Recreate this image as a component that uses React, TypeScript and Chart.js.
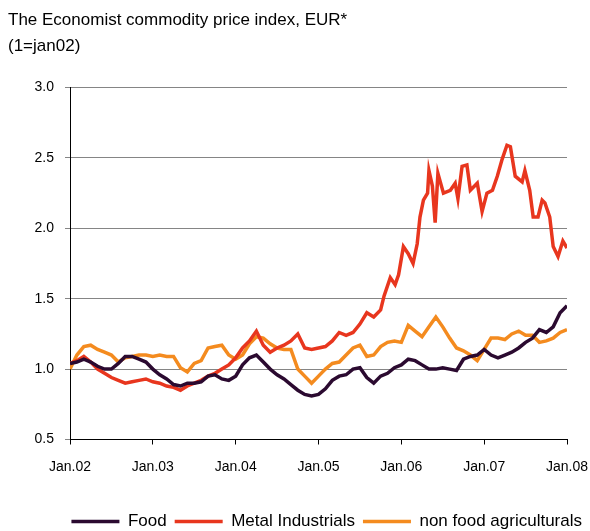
import { useEffect, useRef } from "react";
import { Chart, registerables } from "chart.js";

Chart.register(...registerables);

const FONT = '"Liberation Sans", Arial, sans-serif';

const TITLE_LINES = ["The Economist commodity price index, EUR*", "(1=jan02)"];
const X_TICK_LABELS = ["Jan.02", "Jan.03", "Jan.04", "Jan.05", "Jan.06", "Jan.07", "Jan.08"];
const SERIES_NAMES = ["Food", "Metal Industrials", "non food agriculturals"];
const SERIES_COLORS = ["#2B0A30", "#E8361E", "#F48B1F"];

// months since Jan 2002 (0 = Jan.02, 72 = Jan.08)
const MONTHS = Array.from({ length: 73 }, (_, i) => i);

const FOOD = [
  1.04, 1.05, 1.07, 1.05, 1.02, 1.0, 1.0, 1.04, 1.09, 1.09, 1.07, 1.05,
  1.0, 0.96, 0.93, 0.89, 0.88, 0.9, 0.9, 0.91, 0.95, 0.96, 0.93, 0.92,
  0.95, 1.03, 1.08, 1.1, 1.05, 1.0, 0.96, 0.93, 0.89, 0.85, 0.82, 0.81,
  0.82, 0.86, 0.92, 0.95, 0.96, 1.0, 1.01, 0.94, 0.9, 0.95, 0.97, 1.01,
  1.03, 1.07, 1.06, 1.03, 1.0, 1.0, 1.01, 1.0, 0.99, 1.07, 1.09, 1.1,
  1.14, 1.1, 1.08, 1.1, 1.12, 1.15, 1.19, 1.22, 1.28, 1.26, 1.3, 1.4,
  1.45,
];

const NON_FOOD = [
  1.0, 1.1, 1.16, 1.17, 1.14, 1.12, 1.1, 1.05, 1.08, 1.09, 1.1, 1.1,
  1.09, 1.1, 1.09, 1.09, 1.01, 0.98, 1.04, 1.06, 1.15, 1.16, 1.17, 1.1,
  1.07, 1.1, 1.18, 1.23, 1.22, 1.18, 1.15, 1.14, 1.14, 1.0, 0.95, 0.9,
  0.95, 1.0, 1.04, 1.05, 1.1, 1.15, 1.17, 1.09, 1.1, 1.16, 1.19, 1.2,
  1.19, 1.31, 1.27, 1.23, 1.3, 1.37, 1.3, 1.22, 1.15, 1.13, 1.1, 1.06,
  1.14, 1.22, 1.22, 1.21, 1.25, 1.27, 1.24, 1.24, 1.19, 1.2, 1.22, 1.26,
  1.28,
];

const METAL_MONTHS = [
  0, 1, 2, 3, 4, 5, 6, 7, 8, 9, 10, 11,
  12, 13, 14, 15, 16, 17, 18, 19, 20, 21, 22, 23,
  24, 25, 26, 27, 28, 29, 30, 31, 32, 33, 34, 35,
  36, 37, 38, 39, 40, 41, 42, 43, 44, 45,
  45.5, 46.4, 47.1, 47.6, 48.3, 49.0, 49.7, 50.3, 50.7, 51.2, 51.8, 52.0,
  52.5, 52.9, 53.3, 54.1, 55.1, 55.8, 56.2, 56.8, 57.5, 58.0, 59.0, 59.7,
  60.4, 61.2, 61.9, 62.6, 63.3, 63.8, 64.5, 65.5, 65.9, 66.6, 67.1, 67.8,
  68.4, 68.8, 69.5, 70.0, 70.7, 71.4, 72.0,
];

const METAL = [
  1.04, 1.06, 1.09, 1.05, 1.0, 0.97, 0.94, 0.92, 0.9, 0.91, 0.92, 0.93,
  0.91, 0.9, 0.88, 0.87, 0.85, 0.88, 0.9, 0.92, 0.95, 0.97, 1.0, 1.03,
  1.08, 1.15, 1.2, 1.27, 1.17, 1.12, 1.15, 1.17, 1.2, 1.25, 1.15, 1.14,
  1.15, 1.16, 1.2, 1.26, 1.24, 1.26, 1.32, 1.4, 1.37, 1.42,
  1.52, 1.65, 1.6, 1.67, 1.87, 1.82, 1.75, 1.89, 2.08, 2.2, 2.25, 2.41,
  2.3, 2.04, 2.39, 2.25, 2.27, 2.32, 2.21, 2.44, 2.45, 2.27, 2.32, 2.12,
  2.25, 2.27, 2.37, 2.49, 2.59, 2.58, 2.37, 2.33, 2.41, 2.27, 2.08, 2.08,
  2.2, 2.18, 2.08, 1.87, 1.8, 1.91, 1.86,
];

const Y_MIN = 0.5;
const Y_MAX = 3.0;
const Y_STEP = 0.5;

function pairs(xs: number[], ys: number[]) {
  return xs.map((x, i) => ({ x, y: ys[i] }));
}

export default function App() {
  const ref = useRef<HTMLCanvasElement>(null);

  useEffect(() => {
    document.body.style.margin = "0";
    const line = (label: string, color: string, data: { x: number; y: number }[]) => ({
      label,
      data,
      borderColor: color,
      backgroundColor: color,
      borderWidth: 3.5,
      pointRadius: 0,
      tension: 0,
    });
    const chart = new Chart(ref.current!, {
      type: "line",
      data: {
        datasets: [
          line(SERIES_NAMES[0], SERIES_COLORS[0], pairs(MONTHS, FOOD)),
          line(SERIES_NAMES[1], SERIES_COLORS[1], pairs(METAL_MONTHS, METAL)),
          line(SERIES_NAMES[2], SERIES_COLORS[2], pairs(MONTHS, NON_FOOD)),
        ],
      },
      options: {
        responsive: false,
        animation: false,
        layout: { padding: { left: 8, right: 0, top: 0, bottom: -9 } },
        plugins: {
          title: {
            display: true,
            text: TITLE_LINES,
            align: "start",
            color: "#000",
            font: { family: FONT, size: 17, weight: "normal", lineHeight: 1.5 },
            padding: { top: 8, bottom: 28.5 },
          },
          legend: {
            position: "bottom",
            align: "end",
            labels: {
              usePointStyle: true,
              pointStyle: "line",
              pointStyleWidth: 48,
              color: "#000",
              font: { family: FONT, size: 17 },
              padding: 8,
            },
          },
          tooltip: { enabled: false },
        },
        scales: {
          x: {
            type: "linear",
            min: 0,
            max: 72,
            afterFit: (s: any) => {
              s.height = 65.5;
              s.paddingLeft = 0;
              s.paddingRight = 23;
            },
            ticks: {
              stepSize: 12,
              autoSkip: false,
              maxRotation: 0,
              callback: (v: any) => X_TICK_LABELS[Math.round(Number(v) / 12)],
              color: "#000",
              font: { family: FONT, size: 14 },
              padding: 14,
            },
            grid: { drawOnChartArea: false, tickLength: 5, color: "#000" },
            border: { color: "#000" },
          },
          y: {
            min: Y_MIN,
            max: Y_MAX,
            afterFit: (s: any) => {
              s.width = 62;
              s.paddingTop = 0;
              s.paddingBottom = 0;
            },
            ticks: {
              stepSize: Y_STEP,
              callback: (v: any) => Number(v).toFixed(1),
              color: "#000",
              font: { family: FONT, size: 14 },
              padding: 11,
            },
            grid: { color: "#858585", tickLength: 5 },
            border: { color: "#000" },
          },
        },
      },
    } as any);
    return () => chart.destroy();
  }, []);

  return (
    <canvas
      ref={ref}
      width={590}
      height={531}
      style={{ display: "block", width: 590, height: 531 }}
    />
  );
}
